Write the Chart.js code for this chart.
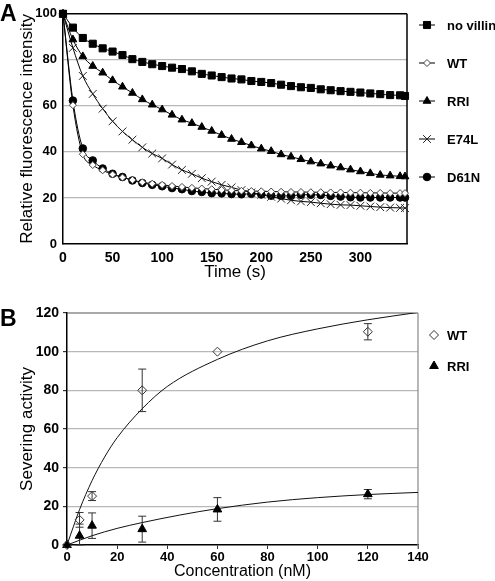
<!DOCTYPE html>
<html>
<head>
<meta charset="utf-8">
<script src="https://cdn.jsdelivr.net/npm/chart.js@4.4.0/dist/chart.umd.min.js"></script>
<style>
html, body { margin: 0; padding: 0; background: #fff; }
body { width: 495px; height: 581px; position: relative; overflow: hidden; font-family: "Liberation Sans", Arial, sans-serif; }
.panel { position: absolute; left: 0; width: 495px; }
#wrapA { top: 0; height: 290px; }
#wrapB { top: 290px; height: 291px; }
.tag { position: absolute; left: 0; font-weight: bold; font-size: 23px; line-height: 1; }
</style>
</head>
<body>
<div class="panel" id="wrapA"><canvas id="chartA" width="495" height="290"></canvas></div>
<div class="panel" id="wrapB"><canvas id="chartB" width="495" height="291"></canvas></div>
<div class="tag" style="top:2px">A</div>
<div class="tag" style="top:307px">B</div>
<script>
// Panel A - fluorescence decay
const times = [0, 10, 20, 30, 40, 50, 60, 70, 80, 90, 100, 110, 120, 130, 140, 150, 160, 170,
    180, 190, 200, 210, 220, 230, 240, 250, 260, 270, 280, 290, 300, 310, 320, 330, 340, 345];
const noVillin = [100, 94, 89.5, 87, 85, 83.6, 82.1, 80.3, 79.1, 78.1, 77.3, 76.6, 76, 75, 73.9, 73.2, 72.5, 71.9,
    71.5, 70.8, 70.4, 69.9, 69.2, 68.6, 68.1, 67.8, 67.2, 66.8, 66.4, 66.1, 65.8, 65.4, 65.1, 64.7, 64.6, 64.3];
const wt = [100, 60.3, 39, 34.3, 32, 30.2, 28.9, 27.8, 26.8, 26.2, 25.7, 25.2, 24.8, 24.4, 24.1, 23.8, 23.5, 23.3,
    23.1, 23, 22.9, 22.8, 22.7, 22.6, 22.6, 22.5, 22.5, 22.4, 22.4, 22.3, 22.3, 22.2, 22.2, 22.1, 22.1, 22.1];
const rri = [100, 88.8, 81.5, 77.3, 74.4, 71.1, 68.3, 65.6, 62.8, 60.5, 58.4, 56.1, 54, 52.5, 50.8, 49.1, 47.3, 45.6,
    44.2, 42.8, 41.4, 40.3, 38.9, 37.9, 36.8, 35.8, 34.9, 34, 33.2, 32.3, 31.5, 30.7, 30, 29.7, 29.4, 29.3];
const e74l = [100, 85.2, 73, 65.2, 58.8, 53.3, 48.9, 45.3, 42, 39.3, 37.2, 34.5, 32.2, 30.5, 28.6, 27.1, 25.7, 24.6,
    23.4, 22.4, 21.4, 20.5, 19.7, 19, 18.5, 18.2, 17.7, 17.3, 17, 16.9, 16.6, 16.3, 16, 15.8, 15.7, 15.6];
const d61n = [100, 62.3, 41.5, 36.3, 32.8, 30.5, 29.1, 27.6, 26.5, 25.7, 25.1, 24.3, 23.8, 23, 22.6, 22.1, 22, 21.7,
    21.6, 21.8, 21.5, 21, 20.9, 20.9, 21.4, 21.4, 21.3, 20.9, 20.6, 20.3, 20.2, 20.2, 20.2, 20.2, 20.2, 20.2];

// Panel B - severing activity
const conc = [0, 5, 10, 30, 60, 120];
const wtActivity = [0, 13, 25.3, 80, 100, 110.3];
const wtErr = [0, 3.8, 2.3, 11, 0, 4.2];
const rriActivity = [0, 4.8, 10, 8.2, 18.4, 26.3];
const rriErr = [0, 6, 6.6, 6.7, 6.1, 2.4];
// fitted curves
const wtFitX = [0, 5, 10, 15, 20, 30, 40, 60, 80, 100, 120, 140];
const wtFitY = [0, 18.3, 33.3, 45.5, 55.5, 70.5, 82, 96, 105.6, 111.8, 116.5, 120.3];
const rriFitX = [0, 10, 20, 30, 45, 60, 80, 100, 120, 140];
const rriFitY = [0, 4.8, 8.6, 11.6, 15.5, 18.8, 22.2, 24.5, 26.1, 27.2];

Chart.defaults.font.family = '"Liberation Sans", Arial, sans-serif';
Chart.defaults.color = '#000';

function pts(xs, ys) {
    return xs.map((x, i) => ({x: x, y: ys[i]}));
}

// legend drawn at the right of the plot
const sideLegend = {
    id: 'sideLegend',
    afterDraw(chart, args, opts) {
        const ctx = chart.ctx;
        ctx.save();
        ctx.font = 'bold 13px "Liberation Sans", Arial, sans-serif';
        ctx.textBaseline = 'middle';
        opts.order.forEach((di, i) => {
            const ds = chart.data.datasets[di];
            const y = opts.y0 + i * opts.gap;
            if (opts.line) {
                ctx.strokeStyle = '#000';
                ctx.lineWidth = 1;
                ctx.beginPath();
                ctx.moveTo(opts.x - 8, y);
                ctx.lineTo(opts.x + 8, y);
                ctx.stroke();
            }
            ctx.fillStyle = ds.pointBackgroundColor;
            ctx.strokeStyle = ds.pointBorderColor;
            ctx.lineWidth = ds.pointBorderWidth;
            if (Chart.helpers && Chart.helpers.drawPoint) {
                Chart.helpers.drawPoint(ctx, {pointStyle: ds.pointStyle, radius: ds.pointRadius,
                    borderWidth: ds.pointBorderWidth, rotation: 0}, opts.x, y);
            }
            ctx.fillStyle = '#000';
            ctx.fillText(ds.label, opts.textX, y + 1);
        });
        ctx.restore();
    }
};

// top and right edge of the plot
const frame = {
    id: 'frame',
    beforeDatasetsDraw(chart, args, opts) {
        const {top, right, bottom, left} = chart.chartArea;
        const ctx = chart.ctx;
        ctx.save();
        ctx.lineWidth = opts.width;
        ctx.strokeStyle = opts.topColor;
        ctx.beginPath();
        ctx.moveTo(left, top);
        ctx.lineTo(right, top);
        ctx.stroke();
        ctx.strokeStyle = opts.rightColor;
        ctx.beginPath();
        ctx.moveTo(right, top);
        ctx.lineTo(right, bottom + opts.extend);
        ctx.stroke();
        ctx.restore();
    }
};

// vertical error bars with caps
const errorBars = {
    id: 'errorBars',
    beforeDatasetsDraw(chart) {
        const ctx = chart.ctx;
        const ys = chart.scales.y;
        ctx.save();
        ctx.strokeStyle = '#333';
        ctx.lineWidth = 1;
        chart.data.datasets.forEach((ds, di) => {
            if (!ds.errors) return;
            const meta = chart.getDatasetMeta(di);
            meta.data.forEach((p, i) => {
                const e = ds.errors[i];
                if (!e) return;
                const v = ds.data[i].y;
                const t = ys.getPixelForValue(v + e);
                const b = ys.getPixelForValue(Math.max(0, v - e));
                ctx.beginPath();
                ctx.moveTo(p.x, t); ctx.lineTo(p.x, b);
                ctx.moveTo(p.x - 4, t); ctx.lineTo(p.x + 4, t);
                ctx.moveTo(p.x - 4, b); ctx.lineTo(p.x + 4, b);
                ctx.stroke();
            });
        });
        ctx.restore();
    }
};

function decaySet(label, ys, style, radius, fill, border) {
    return {
        label: label,
        data: pts(times, ys),
        showLine: true,
        borderColor: '#000',
        borderWidth: 1,
        cubicInterpolationMode: 'monotone',
        pointStyle: style,
        pointRadius: radius,
        pointBackgroundColor: fill,
        pointBorderColor: border,
        pointBorderWidth: 1,
        clip: false
    };
}

new Chart(document.getElementById('chartA'), {
    type: 'scatter',
    data: {
        datasets: [
            decaySet('no villin', noVillin, 'rect', 5, '#000', '#000'),
            decaySet('WT', wt, 'rectRot', 3.5, '#fff', '#444'),
            decaySet('RRI', rri, 'triangle', 4.5, '#000', '#000'),
            decaySet('E74L', e74l, 'crossRot', 5.5, '#000', '#222'),
            decaySet('D61N', d61n, 'circle', 3.8, '#000', '#000')
        ]
    },
    options: {
        responsive: false,
        animation: false,
        layout: {padding: {top: 5, right: 88, left: 0, bottom: 0}},
        plugins: {
            legend: {display: false},
            tooltip: {enabled: false},
            sideLegend: {order: [0, 1, 2, 3, 4], x: 427, textX: 447, y0: 25, gap: 38, line: true},
            frame: {width: 1.5, topColor: '#000', rightColor: '#000', extend: 0}
        },
        scales: {
            x: {
                type: 'linear', min: 0, max: 347,
                ticks: {stepSize: 50, includeBounds: false, padding: 6, maxRotation: 0,
                    font: {size: 14, weight: 'bold'}},
                grid: {drawOnChartArea: false, drawTicks: false},
                border: {color: '#000', width: 1.5},
                title: {display: true, text: 'Time (s)', font: {size: 17}, padding: {top: 0, bottom: 7}},
                afterFit(s) { s.height = 46; }
            },
            y: {
                min: 0, max: 100,
                ticks: {stepSize: 20, padding: 6, font: {size: 13, weight: 'bold'}},
                grid: {drawTicks: false, lineWidth: 1.2,
                    color: c => (c.tick.value === 0 || c.tick.value === 100) ? 'rgba(0,0,0,0)' : '#b8b8b8'},
                border: {color: '#000', width: 1.5},
                title: {display: true, text: 'Relative fluorescence intensity', font: {size: 17},
                    padding: {top: 17, bottom: 0}},
                afterFit(s) { s.width = 63; }
            }
        }
    },
    plugins: [sideLegend, frame]
});

new Chart(document.getElementById('chartB'), {
    type: 'scatter',
    data: {
        datasets: [
            {label: 'WT', data: pts(conc, wtActivity), errors: wtErr, pointStyle: 'rectRot', pointRadius: 4.5,
                pointBackgroundColor: 'rgba(0,0,0,0)', pointBorderColor: '#333', pointBorderWidth: 1, clip: false},
            {label: 'RRI', data: pts(conc, rriActivity), errors: rriErr, pointStyle: 'triangle', pointRadius: 5,
                pointBackgroundColor: '#000', pointBorderColor: '#000', pointBorderWidth: 1, clip: false},
            {label: 'WT fit', data: pts(wtFitX, wtFitY), showLine: true, pointRadius: 0, borderColor: '#111',
                borderWidth: 1, cubicInterpolationMode: 'monotone'},
            {label: 'RRI fit', data: pts(rriFitX, rriFitY), showLine: true, pointRadius: 0, borderColor: '#111',
                borderWidth: 1, cubicInterpolationMode: 'monotone'}
        ]
    },
    options: {
        responsive: false,
        animation: false,
        layout: {padding: {top: 23, right: 77, left: 0, bottom: 0}},
        plugins: {
            legend: {display: false},
            tooltip: {enabled: false},
            sideLegend: {order: [0, 1], x: 434, textX: 447, y0: 45, gap: 31, line: false},
            frame: {width: 1.2, topColor: '#555', rightColor: '#888', extend: 4}
        },
        scales: {
            x: {
                type: 'linear', min: 0, max: 140,
                ticks: {stepSize: 20, padding: 1, maxRotation: 0, font: {size: 13, weight: 'bold'}},
                grid: {drawOnChartArea: false, drawTicks: true, tickLength: 4, tickColor: '#333'},
                border: {color: '#000', width: 1.5},
                title: {display: true, text: 'Concentration (nM)', font: {size: 16}, padding: {top: 0, bottom: 0}},
                afterFit(s) { s.height = 36; }
            },
            y: {
                min: 0, max: 120,
                ticks: {stepSize: 20, padding: 4, font: {size: 14, weight: 'bold'}},
                grid: {drawTicks: true, tickLength: 4, tickColor: '#333', lineWidth: 1.2,
                    color: c => (c.tick.value === 0 || c.tick.value === 120) ? 'rgba(0,0,0,0)' : '#b8b8b8'},
                border: {color: '#000', width: 1.5},
                title: {display: true, text: 'Severing activity', font: {size: 17}, padding: {top: 17, bottom: 0}},
                afterFit(s) { s.width = 67; }
            }
        }
    },
    plugins: [sideLegend, frame, errorBars]
});
</script>
</body>
</html>
